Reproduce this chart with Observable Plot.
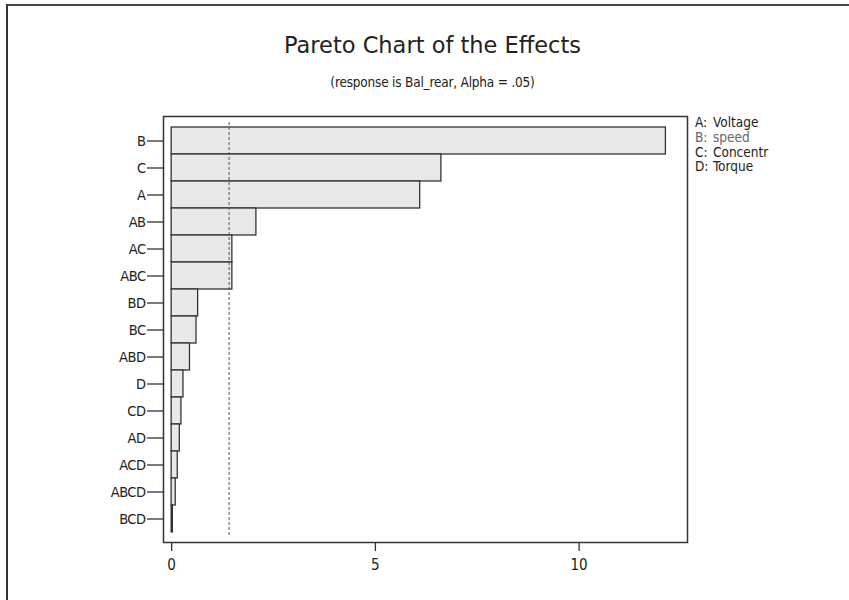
<!DOCTYPE html>
<html>
<head>
<meta charset="utf-8">
<script src="https://cdn.jsdelivr.net/npm/d3@7"></script>
<script src="https://cdn.jsdelivr.net/npm/@observablehq/plot@0.6"></script>
<style>
  html, body { margin: 0; padding: 0; background: #fff; }
  #page {
    position: relative; width: 849px; height: 600px; overflow: hidden;
    font-family: "DejaVu Sans Condensed", "DejaVu Sans", sans-serif; color: #222;
  }
  #edge {
    position: absolute; left: 6px; top: 4px; width: 860px; height: 620px;
    border-left: 2px solid #333; border-top: 2px solid #444;
  }
  #header { position: relative; height: 100px; }
  #title {
    position: absolute; left: 8px; width: 849px; top: 32px;
    text-align: center; font-family: "DejaVu Sans", sans-serif; font-size: 22.5px;
  }
  #subtitle {
    position: absolute; left: 8px; width: 849px; top: 74px;
    text-align: center; font-size: 13.5px; letter-spacing: -0.2px;
  }
  #legend {
    position: absolute; left: 695px; top: 115px;
    font-size: 13.5px; line-height: 14.8px;
  }
  #legend .row { display: flex; }
  #legend .key { width: 18px; }
  #chart { position: absolute; left: 0; top: 100px; }
  #chart svg g[aria-label="y-axis tick label"] { font-size: 14.5px; letter-spacing: -0.5px; }
  #chart svg g[aria-label="x-axis tick label"] { font-size: 15px; }
</style>
</head>
<body>
<div id="page">
  <div id="edge"></div>
  <div id="header">
    <div id="title"></div>
    <div id="subtitle"></div>
  </div>
  <div id="legend"></div>
  <div id="chart"></div>
</div>
<script>
// Standardized effects, largest first
const terms = ["B", "C", "A", "AB", "AC", "ABC", "BD", "BC", "ABD", "D", "CD", "AD", "ACD", "ABCD", "BCD"];
const effects = [12.13, 6.62, 6.10, 2.08, 1.49, 1.49, 0.65, 0.61, 0.45, 0.29, 0.24, 0.20, 0.15, 0.10, 0.03];

// Critical value for significance (Alpha = .05)
const criticalValue = 1.41;

// Factor key
const factorKeys = ["A", "B", "C", "D"];
const factorNames = ["Voltage", "speed", "Concentr", "Torque"];
const factorColors = ["#222", "#666", "#222", "#222"];

const xTicks = [0, 5, 10];

const titleText = "Pareto Chart of the Effects";
const subtitleText = "(response is Bal_rear, Alpha = .05)";

document.getElementById("title").textContent = titleText;
document.getElementById("subtitle").textContent = subtitleText;

const legend = document.getElementById("legend");
factorKeys.forEach((k, i) => {
  const row = document.createElement("div");
  row.className = "row";
  row.style.color = factorColors[i];
  const key = document.createElement("span");
  key.className = "key";
  key.textContent = k + ":";
  const name = document.createElement("span");
  name.textContent = factorNames[i];
  row.append(key, name);
  legend.append(row);
});

const data = terms.map((t, i) => ({term: t, effect: effects[i]}));

const chart = Plot.plot({
  width: 849,
  height: 500,
  marginLeft: 163,
  marginRight: 162,
  marginTop: 16,
  marginBottom: 58,
  style: {
    fontFamily: "'DejaVu Sans Condensed', 'DejaVu Sans', sans-serif",
    fontSize: "13px",
    background: "transparent",
    color: "#222"
  },
  x: {domain: [-0.2, 12.66], ticks: xTicks, label: null},
  y: {domain: terms, padding: 0, insetTop: 6, insetBottom: 5, label: null},
  marks: [
    Plot.barX(data, {x: "effect", y: "term", fill: "#e8e8e8", stroke: "#333", strokeWidth: 1.3}),
    Plot.ruleX([criticalValue], {stroke: "#555", strokeDasharray: "3,2", strokeWidth: 1, insetTop: 6, insetBottom: 5}),
    Plot.frame({stroke: "#333", strokeWidth: 1.5}),
    Plot.axisY({tickSize: 16, tickPadding: 2, stroke: "#333", strokeWidth: 1.3, label: null}),
    Plot.axisX({ticks: xTicks, tickSize: 9, tickPadding: 8, stroke: "#333", strokeWidth: 1.3, label: null})
  ]
});

document.getElementById("chart").append(chart);
</script>
</body>
</html>
